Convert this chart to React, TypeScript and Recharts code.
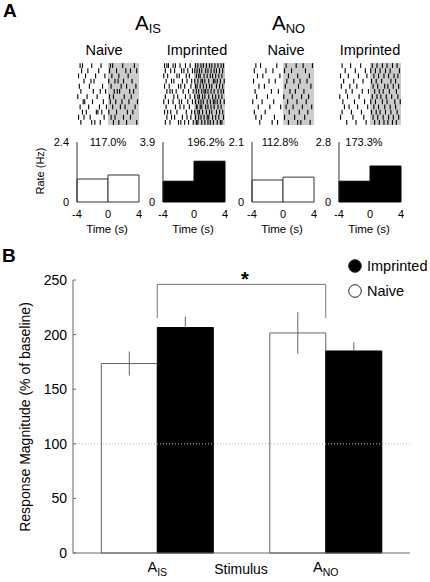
import React from 'react';
import {
  BarChart, Bar, ScatterChart, Scatter, XAxis, YAxis,
  ReferenceArea, ReferenceLine, ErrorBar, Legend,
} from 'recharts';

const FONT = '"Liberation Sans", Arial, Helvetica, sans-serif';

// ---- panel A data ----
const stimulusNames = ['A_IS', 'A_NO'];
const conditions = ['Naive', 'Imprinted', 'Naive', 'Imprinted'];
const rateMax = [2.4, 3.9, 2.1, 2.8];
const ratePre = [0.92, 1.35, 0.77, 0.97];
const ratePost = [1.08, 2.65, 0.87, 1.68];
const percentLabels = ['117.0%', '196.2%', '112.8%', '173.3%'];
const binCenters = [-2, 2];
const timeTicks = [-4, 0, 4];

// spike times (s) per trial, one list per raster
const rasterIsNaive = [
  [-3.6, -3.3, -2.1, -0.9, 0.3, 0.6, 1.9, 3.4],
  [-3.4, -2.6, -1.2, 0.2, 1.1, 2.3, 2.9, 3.7],
  [-3.8, -2.9, -1.6, -0.4, 0.5, 1.4, 2.6],
  [-3.1, -2.2, -1.8, 0.1, 0.9, 1.3, 2.0, 3.1],
  [-3.7, -2.4, -0.7, 0.4, 1.7, 2.4, 3.6],
  [-3.5, -1.9, -1.0, -0.3, 0.8, 1.2, 1.5, 2.8, 3.3],
  [-3.9, -2.7, -1.4, 0.2, 0.7, 2.1, 3.0],
  [-3.2, -3.0, -2.0, -0.6, 0.3, 1.0, 1.8, 2.7, 3.8],
  [-3.6, -2.5, -1.1, -0.2, 0.6, 1.6, 2.2, 3.5],
  [-3.3, -2.8, -1.5, -1.3, -0.8, 0.1, 1.1, 2.5, 3.2],
  [-3.8, -3.1, -2.3, -0.5, 0.4, 0.9, 2.0, 2.9],
  [-3.5, -2.1, -1.7, -1.0, 0.7, 1.4, 2.4, 3.7],
];
const rasterIsImprinted = [
  [-3.8, -3.5, -3.3, -2.7, -2.4, -1.8, -1.1, -0.5, 0.2, 0.5, 0.9, 1.2, 1.6, 2.0, 2.3, 2.7, 3.1, 3.5, 3.8],
  [-3.7, -3.0, -2.5, -1.6, -1.3, -0.8, -0.2, 0.1, 0.4, 0.7, 1.0, 1.5, 1.8, 2.2, 2.6, 2.9, 3.3, 3.7],
  [-3.9, -3.4, -2.2, -1.9, -1.0, -0.6, 0.3, 0.6, 0.8, 1.3, 1.7, 2.1, 2.4, 2.8, 3.2, 3.6],
  [-3.6, -2.9, -2.6, -1.5, -0.9, -0.3, 0.1, 0.5, 0.9, 1.1, 1.4, 1.9, 2.5, 2.7, 3.0, 3.4, 3.9],
  [-3.8, -3.2, -2.0, -1.7, -1.2, -0.4, 0.2, 0.4, 0.8, 1.2, 1.6, 2.0, 2.3, 2.9, 3.3, 3.7],
  [-3.5, -3.1, -2.8, -2.3, -1.4, -0.7, -0.1, 0.3, 0.6, 1.0, 1.3, 1.5, 1.8, 2.2, 2.6, 3.1, 3.5, 3.8],
  [-3.7, -2.6, -2.1, -1.1, -0.5, 0.1, 0.5, 0.7, 1.1, 1.4, 1.9, 2.4, 2.8, 3.2, 3.6],
  [-3.9, -3.3, -2.7, -1.9, -1.6, -0.8, -0.2, 0.2, 0.6, 0.9, 1.2, 1.7, 2.1, 2.5, 2.7, 3.0, 3.4, 3.9],
  [-3.6, -2.4, -1.8, -1.3, -0.6, 0.3, 0.4, 0.8, 1.0, 1.5, 1.8, 2.2, 2.6, 3.1, 3.5],
  [-3.8, -3.4, -3.0, -2.2, -1.0, -0.3, 0.1, 0.5, 0.7, 1.1, 1.6, 2.0, 2.3, 2.9, 3.3, 3.7],
  [-3.5, -2.9, -2.5, -1.5, -0.9, -0.4, 0.2, 0.6, 0.9, 1.3, 1.7, 1.9, 2.4, 2.8, 3.2, 3.8],
  [-3.7, -3.1, -2.0, -1.7, -1.2, -0.7, -0.1, 0.3, 0.5, 1.0, 1.4, 1.8, 2.1, 2.5, 3.0, 3.4, 3.6],
];
const rasterNoNaive = [
  [-3.5, -2.9, -0.8, 0.4, 1.7, 2.6, 3.8],
  [-3.7, -2.2, -1.3, 0.2, 1.1, 2.9],
  [-3.3, -2.6, -0.4, 0.7, 1.9, 3.4],
  [-3.8, -1.8, -1.0, 0.5, 1.4, 2.2, 3.1],
  [-3.1, -2.4, 0.3, 2.0, 3.6],
  [-3.6, -1.5, -0.6, 0.9, 1.6, 2.7],
  [-3.4, -2.0, 0.1, 1.2, 2.4, 3.3],
  [-3.9, -2.7, -1.2, 0.6, 1.8, 3.0],
  [-3.2, -1.7, -0.3, 0.4, 1.3, 2.5, 3.7],
  [-3.7, -2.3, 0.8, 2.1, 3.2],
  [-3.5, -2.8, -1.1, 0.2, 1.5, 2.8],
  [-3.0, -1.4, -0.7, 0.7, 1.9, 2.3, 3.5],
];
const rasterNoImprinted = [
  [-3.6, -2.5, -1.2, 0.3, 0.9, 1.6, 2.2, 2.9, 3.5],
  [-3.2, -1.9, -0.6, 0.1, 0.7, 1.3, 2.0, 2.6, 3.8],
  [-3.8, -2.8, -1.5, -0.4, 0.5, 1.1, 1.8, 2.4, 3.1, 3.6],
  [-3.4, -2.1, -0.9, 0.2, 0.8, 1.5, 2.7, 3.3],
  [-3.7, -2.6, -1.7, 0.4, 1.0, 1.9, 2.3, 3.0, 3.7],
  [-3.1, -2.3, -1.0, -0.2, 0.6, 1.2, 1.7, 2.5, 3.4],
  [-3.9, -2.9, -1.4, 0.3, 0.9, 1.4, 2.1, 2.8, 3.6],
  [-3.5, -2.0, -0.7, 0.1, 0.7, 1.6, 2.2, 3.2, 3.9],
  [-3.3, -2.7, -1.6, -0.3, 0.5, 1.1, 1.9, 2.6, 3.3],
  [-3.6, -2.4, -1.1, 0.2, 0.8, 1.3, 2.0, 2.7, 3.5],
  [-3.8, -2.2, -0.8, 0.4, 1.0, 1.7, 2.4, 3.0, 3.7],
  [-3.0, -1.8, -0.5, 0.6, 1.2, 1.8, 2.3, 2.9, 3.4],
];
const rasters = [rasterIsNaive, rasterIsImprinted, rasterNoNaive, rasterNoImprinted];

// ---- panel B data ----
const naiveMag = [173.5, 201.5];
const imprintedMag = [206.5, 185];
const naiveSem = [11, 19];
const imprintedSem = [10, 8];
const magTicks = [0, 50, 100, 150, 200, 250];
const bracketLow = 215;
const bracketHigh = 246;
const legendOrder = ['Imprinted', 'Naive'];

// layout
const colLeft = [77, 163, 252, 339];
const colWidth = 62;
const pctX = [108, 206, 280, 364];
const condX = [104, 197, 286, 370];

const SpikeTick = (p: any) => (
  <line x1={p.cx} x2={p.cx} y1={p.cy - 2.4} y2={p.cy + 2.4} stroke="#000" strokeWidth={1.1} />
);

function Raster({ i }: { i: number }) {
  const data = rasters[i].flatMap((spikes, k) => spikes.map((t) => ({ t, trial: k + 1 })));
  return (
    <div style={{ position: 'absolute', left: colLeft[i], top: 63 }}>
      <ScatterChart width={colWidth} height={62} margin={{ top: 0, right: 0, bottom: 0, left: 0 }}>
        <XAxis type="number" dataKey="t" domain={[-4, 4]} hide />
        <YAxis type="number" dataKey="trial" domain={[0.5, 12.5]} hide reversed />
        <ReferenceArea x1={0} x2={4} fill="#cccccc" fillOpacity={1} stroke="none" />
        <Scatter data={data} shape={SpikeTick} isAnimationActive={false} />
      </ScatterChart>
    </div>
  );
}

const smallTick = { fontSize: 11, fill: '#000', fontFamily: FONT };

function RateHist({ i }: { i: number }) {
  const data = binCenters.map((t, k) => ({ t, rate: k === 0 ? ratePre[i] : ratePost[i] }));
  const filled = conditions[i] === 'Imprinted';
  return (
    <div style={{ position: 'absolute', left: colLeft[i] - 30, top: 136 }}>
      <BarChart width={30 + colWidth + 12} height={90} data={data}
        margin={{ top: 6, right: 12, bottom: 0, left: 0 }} barCategoryGap={0} barGap={0}>
        <XAxis type="number" dataKey="t" domain={[-4, 4]} ticks={timeTicks} interval={0}
          axisLine={false} tickLine={false} height={24} tick={smallTick} />
        <YAxis type="number" domain={[0, rateMax[i]]} ticks={[0, rateMax[i]]} interval={0}
          axisLine={{ stroke: '#333' }} tickLine={false} width={30} tick={smallTick} />
        <Bar dataKey="rate" fill={filled ? '#000' : '#fff'}
          stroke={filled ? '#000' : '#333'} strokeWidth={1} isAnimationActive={false} />
      </BarChart>
    </div>
  );
}

const StimTick = ({ x, y, payload }: any) => {
  const [base, sub] = String(payload.value).split('_');
  return (
    <text x={x} y={y + 11} textAnchor="middle" fontSize={14.5} fontFamily={FONT} fill="#000">
      {base}
      <tspan fontSize={10.5} dy={4}>{sub}</tspan>
    </text>
  );
};

const MagTick = ({ x, y, payload }: any) => (
  <g>
    <line x1={x + 6} x2={x + 9} y1={y} y2={y} stroke="#666" />
    <text x={x} y={y} dy="0.36em" textAnchor="end" fontSize={14} fontFamily={FONT} fill="#000">
      {payload.value}
    </text>
  </g>
);

const MagLegend = ({ payload }: any) => {
  const items = legendOrder.map((name) => (payload || []).find((p: any) => p.value === name)).filter(Boolean);
  return (
    <div style={{ fontFamily: FONT, fontSize: 14.5, color: '#000' }}>
      {items.map((p: any) => (
        <div key={p.value} style={{ display: 'flex', alignItems: 'center', height: 25 }}>
          <svg width={16} height={16}>
            <circle cx={8} cy={8} r={6.3} fill={p.color} stroke="#222" strokeWidth={1} />
          </svg>
          <span style={{ marginLeft: 4 }}>{p.value}</span>
        </div>
      ))}
    </div>
  );
};

function MagnitudeChart() {
  const data = stimulusNames.map((stim, k) => ({
    stim, naive: naiveMag[k], imprinted: imprintedMag[k], naiveSem: naiveSem[k], imprintedSem: imprintedSem[k],
  }));
  return (
    <div style={{ position: 'absolute', left: 0, top: 240 }}>
      <BarChart width={430} height={342} data={data} margin={{ top: 40, right: 20, left: 0, bottom: 0 }}
        barCategoryGap="16.8%" barGap={0}>
        <XAxis dataKey="stim" axisLine={{ stroke: '#666' }} tickLine={false} height={29}
          tick={<StimTick />} interval={0} />
        <YAxis domain={[0, 250]} ticks={magTicks} interval={0} axisLine={{ stroke: '#666' }}
          tickLine={false} tickSize={4} tickMargin={2} width={73} tick={<MagTick />} />
        <ReferenceLine y={100} stroke="#bbb" strokeDasharray="1 2" />
        <Bar dataKey="naive" name="Naive" fill="#fff" stroke="#666" strokeWidth={1} isAnimationActive={false}>
          <ErrorBar dataKey="naiveSem" width={0} stroke="#666" strokeWidth={1} />
        </Bar>
        <Bar dataKey="imprinted" name="Imprinted" fill="#000" stroke="#000" strokeWidth={1} isAnimationActive={false}>
          <ErrorBar dataKey={(d: any) => [0, d.imprintedSem]} width={0} stroke="#666" strokeWidth={1} />
        </Bar>
        <ReferenceLine segment={[{ x: 'A_IS', y: bracketHigh }, { x: 'A_NO', y: bracketHigh }]} stroke="#777" />
        <ReferenceLine segment={[{ x: 'A_IS', y: bracketLow }, { x: 'A_IS', y: bracketHigh }]} stroke="#777" />
        <ReferenceLine segment={[{ x: 'A_NO', y: bracketLow }, { x: 'A_NO', y: bracketHigh }]} stroke="#777" />
        <Legend layout="vertical" align="center" verticalAlign="middle" content={<MagLegend />}
          wrapperStyle={{ position: 'absolute', left: 347, top: 13.5, width: 90 }} />
      </BarChart>
    </div>
  );
}

function Labels() {
  const t = { fontFamily: FONT, fill: '#000' } as const;
  return (
    <svg width={430} height={582} style={{ position: 'absolute', left: 0, top: 0, pointerEvents: 'none' }}>
      <text x={3} y={17} fontSize={19} fontWeight="bold" {...t}>A</text>
      <text x={2} y={262} fontSize={19} fontWeight="bold" {...t}>B</text>
      <text x={135} y={30} fontSize={20.5} {...t}>A<tspan fontSize={13} dy={3}>IS</tspan></text>
      <text x={272} y={30} fontSize={20.5} {...t}>A<tspan fontSize={13} dy={3}>NO</tspan></text>
      {conditions.map((c, i) => (
        <text key={'c' + i} x={condX[i]} y={55} fontSize={14.5} textAnchor="middle" {...t}>{c}</text>
      ))}
      {percentLabels.map((p, i) => (
        <text key={'p' + i} x={pctX[i]} y={146} fontSize={11} textAnchor="middle" {...t}>{p}</text>
      ))}
      {colLeft.map((l, i) => (
        <text key={'t' + i} x={l + colWidth / 2 - 1} y={233} fontSize={11.5} textAnchor="middle" {...t}>Time (s)</text>
      ))}
      <text transform="translate(44,171) rotate(-90)" fontSize={11} textAnchor="middle" {...t}>Rate (Hz)</text>
      <text transform="translate(30,417) rotate(-90)" fontSize={14} textAnchor="middle" {...t}>
        Response Magnitude (% of baseline)
      </text>
      <text x={241} y={574} fontSize={14} textAnchor="middle" {...t}>Stimulus</text>
      <text x={245} y={286} fontSize={20} fontWeight="bold" textAnchor="middle" {...t}>*</text>
    </svg>
  );
}

export default function App() {
  return (
    <div style={{ position: 'absolute', left: 0, top: 0, width: 430, height: 582, background: '#fff', fontFamily: FONT }}>
      {[0, 1, 2, 3].map((i) => <Raster key={'r' + i} i={i} />)}
      {[0, 1, 2, 3].map((i) => <RateHist key={'h' + i} i={i} />)}
      <MagnitudeChart />
      <Labels />
    </div>
  );
}
